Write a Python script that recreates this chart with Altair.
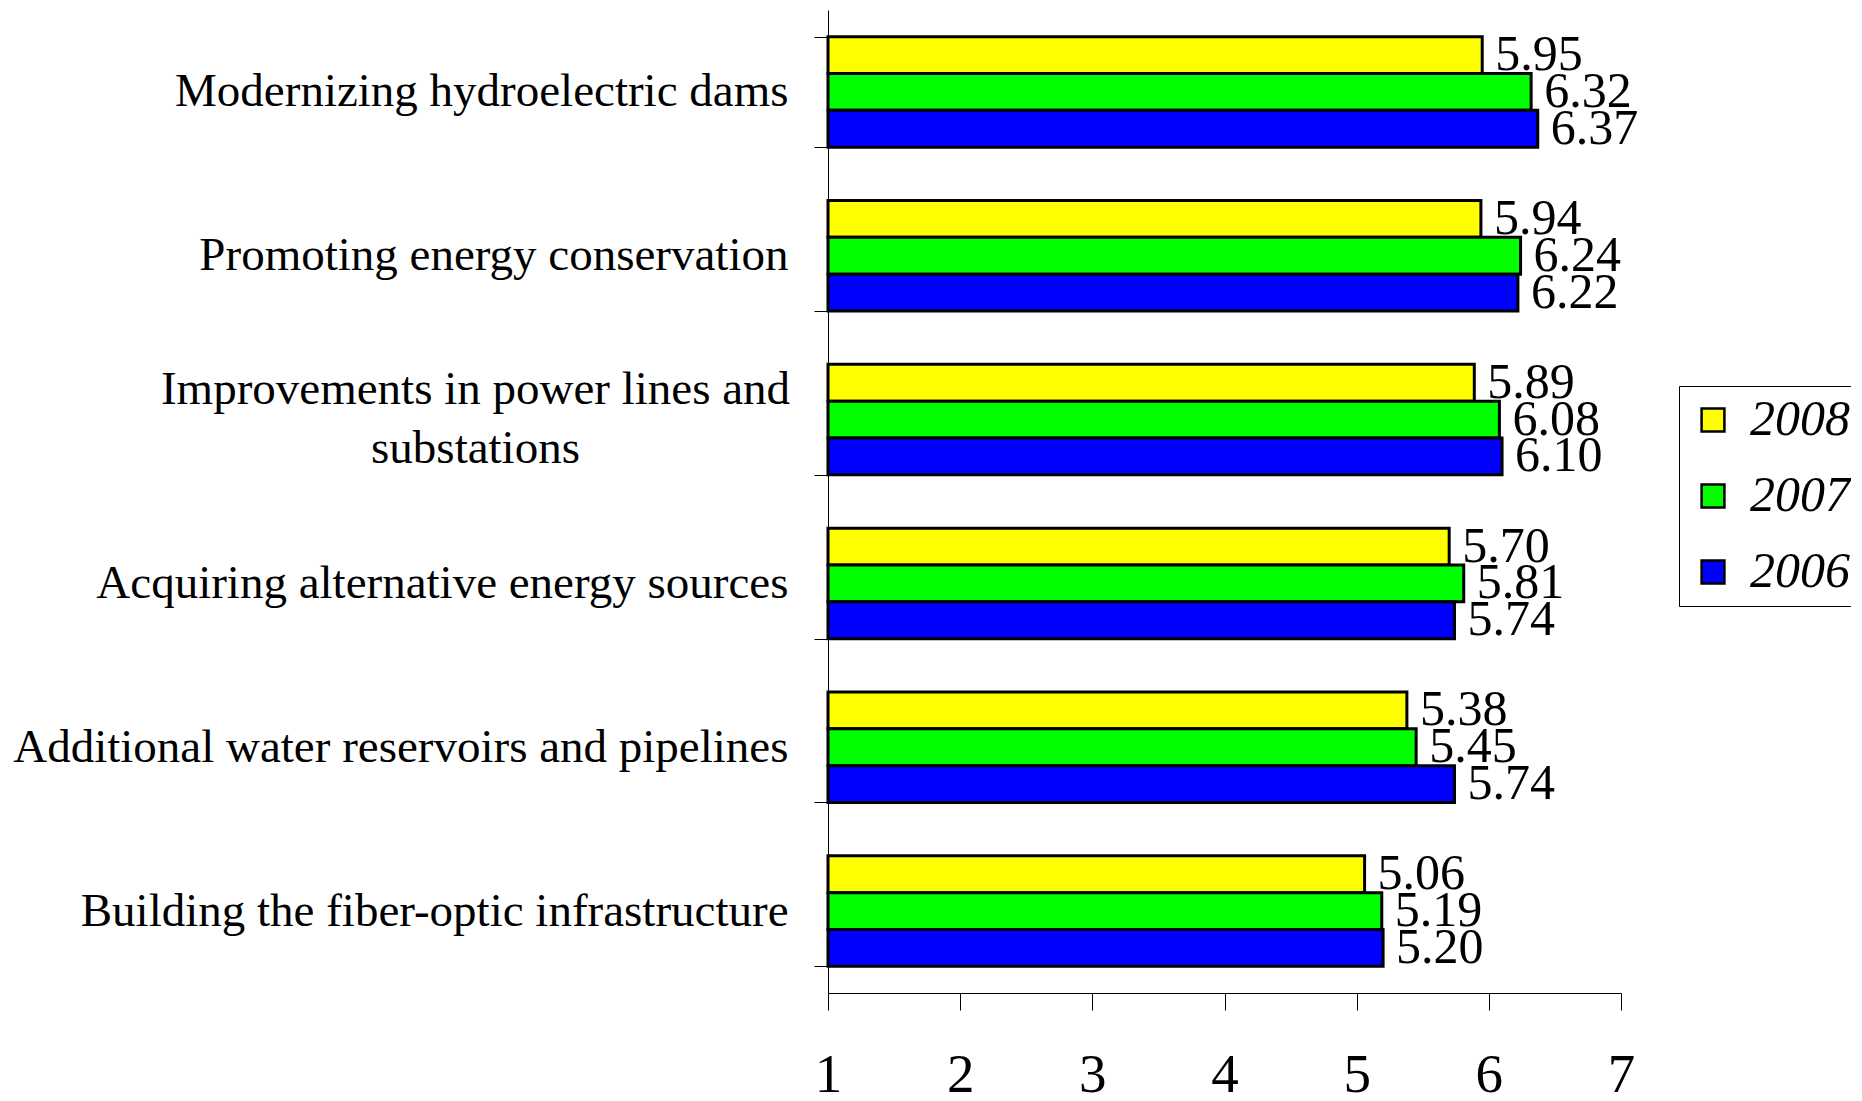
import altair as alt
import pandas as pd

categories = [
    "Modernizing hydroelectric dams",
    "Promoting energy conservation",
    "Improvements in power lines and substations",
    "Acquiring alternative energy sources",
    "Additional water reservoirs and pipelines",
    "Building the fiber-optic infrastructure",
]
years = ["2008", "2007", "2006"]
values_2008 = [5.95, 5.94, 5.89, 5.70, 5.38, 5.06]
values_2007 = [6.32, 6.24, 6.08, 5.81, 5.45, 5.19]
values_2006 = [6.37, 6.22, 6.10, 5.74, 5.74, 5.20]
colors = ["#FFFF00", "#00FF00", "#0000FF"]
x_ticks = [1, 2, 3, 4, 5, 6, 7]

rows = []
for yr, vals in zip(years, [values_2008, values_2007, values_2006]):
    for c, v in zip(categories, vals):
        rows.append({"category": c, "year": yr, "value": v, "base": 1})
df = pd.DataFrame(rows)

FONT = "Liberation Serif"
MULTI = "Improvements in power lines and substations"
is_multi = f"datum.value == '{MULTI}'"

y_enc = alt.Y(
    "category:N",
    sort=categories,
    title=None,
    scale=alt.Scale(paddingInner=0.326, paddingOuter=0.163),
    axis=alt.Axis(
        tickBand="extent",
        tickSize=14,
        tickColor="#000000",
        domainColor="#000000",
        labelFont=FONT,
        labelFontSize=47,
        labelColor="#000000",
        labelLimit=0,
        labelLineHeight=59,
        labelBaseline="middle",
        labelAlign={"condition": {"test": is_multi, "value": "center"}, "value": "right"},
        labelPadding={"condition": {"test": is_multi, "value": 339}, "value": 26},
        labelOffset={"condition": {"test": is_multi, "value": -30}, "value": 0},
        labelExpr=f"datum.label == '{MULTI}' ? ['Improvements in power lines and', 'substations'] : datum.label",
    ),
)

x_enc = alt.X(
    "value:Q",
    title=None,
    scale=alt.Scale(domain=[1, 7], nice=False, zero=False),
    axis=alt.Axis(
        values=x_ticks,
        format="d",
        grid=False,
        tickSize=17,
        tickColor="#000000",
        domainColor="#000000",
        labelFont=FONT,
        labelFontSize=55,
        labelColor="#000000",
        labelPadding=38,
        labelFlush=False,
    ),
)

color_enc = alt.Color(
    "year:N",
    scale=alt.Scale(domain=years, range=colors),
    legend=alt.Legend(
        title=None,
        orient="none",
        legendX=851,
        legendY=376,
        direction="vertical",
        symbolType="square",
        symbolSize=520,
        symbolStrokeColor="#000000",
        symbolStrokeWidth=2.5,
        labelFont=FONT,
        labelFontSize=50,
        labelFontStyle="italic",
        labelColor="#000000",
        labelOffset=12,
        rowPadding=26,
        padding=9,
        strokeColor="#000000",
        fillColor="#FFFFFF",
    ),
)

bars = alt.Chart(df).mark_bar(stroke="#000000", strokeWidth=3).encode(
    y=y_enc,
    yOffset=alt.YOffset("year:N", sort=years, scale=alt.Scale(domain=years)),
    x=x_enc,
    x2="base:Q",
    color=color_enc,
)

labels = alt.Chart(df).mark_text(
    align="left", baseline="middle", dx=13, font=FONT, fontSize=50, color="#000000"
).encode(
    y=alt.Y("category:N", sort=categories),
    yOffset=alt.YOffset("year:N", sort=years, scale=alt.Scale(domain=years)),
    x=alt.X("value:Q"),
    text=alt.Text("value:Q", format=".2f"),
)

chart = (
    alt.layer(bars, labels)
    .properties(
        width=793,
        height=983,
        autosize=alt.AutoSizeParams(type="none"),
        padding={"left": 820, "top": 2, "right": 230, "bottom": 105},
        background="#FFFFFF",
    )
    .configure_view(stroke=None)
)

chart.save("out.html", embed_options={"renderer": "svg", "actions": False})
